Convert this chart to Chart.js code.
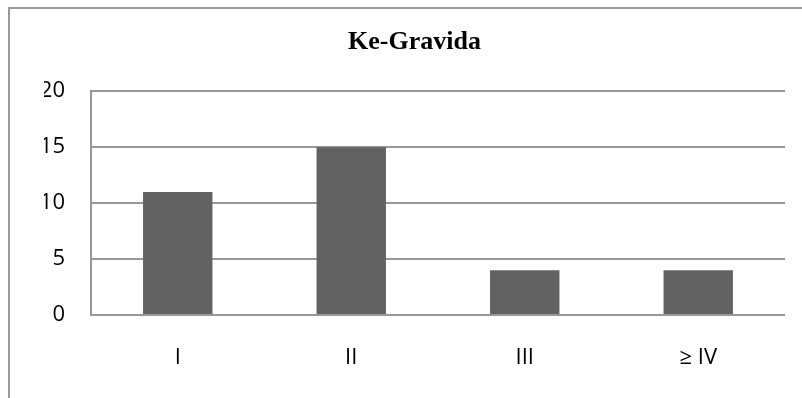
<!DOCTYPE html>
<html>
<head>
<meta charset="utf-8">
<script src="https://cdn.jsdelivr.net/npm/chart.js@4/dist/chart.umd.min.js"></script>
<style>
  html, body { margin: 0; padding: 0; background: #fff; }
  #wrap { width: 802px; height: 398px; position: relative; }
</style>
</head>
<body>
<div id="wrap"><canvas id="c" width="802" height="398"></canvas></div>
<script>
// Gravida groups and number of cases in each
const categories = ['I', 'II', 'III', '\u2265 IV'];
const counts = [11, 15, 4, 4];
const chartTitle = 'Ke-Gravida';
const yMin = 0;
const yMax = 20;
const yStep = 5;

const gridGray = '#979797';

// Outer frame: left and top edges of the chart box
const framePlugin = {
  id: 'frame',
  beforeDraw(chart) {
    const ctx = chart.ctx;
    ctx.save();
    ctx.strokeStyle = '#999999';
    ctx.lineWidth = 2;
    ctx.beginPath();
    ctx.moveTo(9, chart.height);
    ctx.lineTo(9, 8);
    ctx.lineTo(chart.width, 8);
    ctx.stroke();
    ctx.restore();
  }
};

new Chart(document.getElementById('c'), {
  type: 'bar',
  data: {
    labels: categories,
    datasets: [{
      data: counts,
      backgroundColor: '#626262',
      borderWidth: 0,
      barPercentage: 0.4,
      categoryPercentage: 1.0
    }]
  },
  options: {
    responsive: false,
    animation: false,
    devicePixelRatio: 1,
    layout: { padding: { left: 44, right: 17, top: 0, bottom: 0 } },
    plugins: {
      legend: { display: false },
      tooltip: { enabled: false },
      title: {
        display: true,
        text: chartTitle,
        color: '#000',
        font: { family: '"Liberation Serif", "Times New Roman", serif', size: 26, weight: 'bold', lineHeight: 1.2 },
        padding: { top: 27, bottom: 33 }
      }
    },
    scales: {
      x: {
        grid: { display: false, drawTicks: false },
        border: { display: false },
        ticks: {
          color: '#000',
          padding: 30,
          font: { family: '"Open Sans", sans-serif', size: 22 }
        },
        afterFit(scale) { scale.height = 83; }
      },
      y: {
        min: yMin,
        max: yMax,
        ticks: {
          stepSize: yStep,
          color: '#000',
          padding: 26,
          font: { family: '"Open Sans", sans-serif', size: 22 }
        },
        grid: { color: gridGray, lineWidth: 2, drawTicks: false },
        border: { display: true, color: gridGray, width: 2 },
        afterFit(scale) { scale.width = 47; }
      }
    }
  },
  plugins: [framePlugin]
});
</script>
</body>
</html>
